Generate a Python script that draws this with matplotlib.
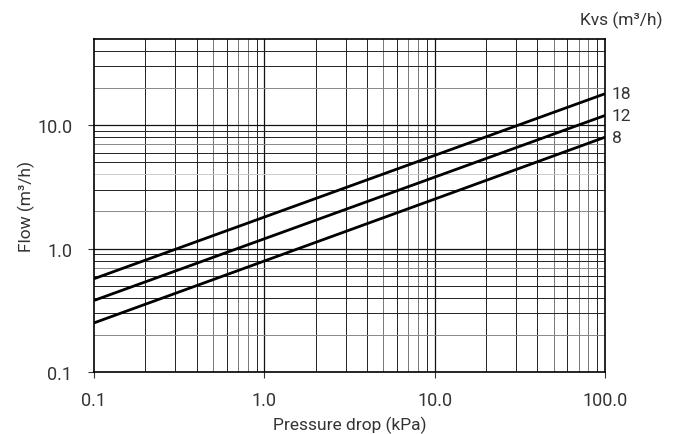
import matplotlib
matplotlib.use('Agg')
import matplotlib.pyplot as plt
import numpy as np

# pressure drop range (kPa) and flow read at both ends (m3/h)
dp = [0.1, 100.0]
kvs_labels = ['18', '12', '8']
flow_18 = [0.57, 18.0]
flow_12 = [0.38, 12.0]
flow_8 = [0.25, 8.0]

x_ticks = [0.1, 1.0, 10.0, 100.0]
x_ticklabels = ['0.1', '1.0', '10.0', '100.0']
y_ticks = [0.1, 1.0, 10.0]
y_ticklabels = ['0.1', '1.0', '10.0']

plt.rcParams['font.family'] = ['Roboto', 'DejaVu Sans']
txt = '#333333'

fig = plt.figure(figsize=(6.78, 4.35), dpi=100)
ax = fig.add_axes([94 / 678, 1 - 373 / 435, 511 / 678, 333 / 435])
ax.set_xscale('log')
ax.set_yscale('log')
ax.set_xlim(0.1, 100)
ax.set_ylim(0.1, 50)

# grid lines at every 1..9 step of each decade
for d in [0.1, 1, 10]:
    for m in range(1, 10):
        v = d * m
        if 0.1 < v < 100:
            c = '#111111' if m == 1 else ('#777777' if m in (5, 7, 8) else '#222222')
            ax.axvline(v, color=c, lw=0.9 if m == 1 else 0.7, zorder=1)
for d in [0.1, 1, 10]:
    for m in range(1, 10):
        v = d * m
        if 0.1 < v < 50:
            c = '#111111' if m == 1 else ('#888888' if m in (2, 7) else '#222222')
            if d == 1 and m == 4:
                c = '#cccccc'
            ax.axhline(v, color=c, lw=0.9 if m == 1 else 0.7, zorder=1)

for flow, lab in zip([flow_18, flow_12, flow_8], kvs_labels):
    ax.plot(dp, flow, color='black', lw=2, zorder=3, solid_capstyle='butt')
    ax.annotate(lab, xy=(dp[-1], flow[-1]), xytext=(5, 0), textcoords='offset points',
                va='center', ha='left', fontsize=12.5, color=txt, annotation_clip=False)

ax.set_xticks(x_ticks)
ax.set_xticklabels(x_ticklabels)
ax.set_yticks(y_ticks)
ax.set_yticklabels(y_ticklabels)
ax.minorticks_off()
ax.tick_params(direction='out', length=4.5, width=0.8, color='#333333',
               labelsize=13, labelcolor=txt)
ax.tick_params(axis='x', pad=9)
ax.tick_params(axis='y', pad=11)
for s in ax.spines.values():
    s.set_linewidth(1.2)
    s.set_color('black')

ax.set_xlabel('Pressure drop (kPa)', fontsize=12.5, color=txt, labelpad=5)
ax.set_ylabel('Flow (m³/h)', fontsize=12.5, color=txt, labelpad=2)
fig.text(662 / 678, 1 - 20 / 435, 'Kvs (m³/h)', ha='right', va='center',
         fontsize=12.5, color=txt)

fig.savefig('out.png', dpi=100)
